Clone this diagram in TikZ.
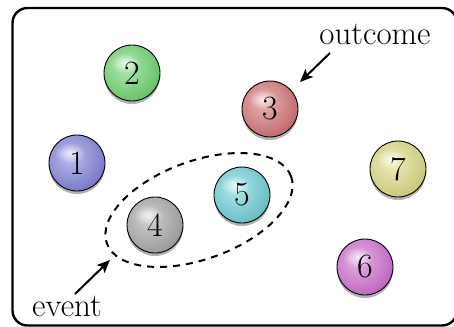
\documentclass[tikz,border=0pt]{standalone}
\usetikzlibrary{shadows,arrows.meta,fadings}
\definecolor{c1}{RGB}{105,105,215}
\definecolor{c2}{RGB}{80,205,80}
\definecolor{c3}{RGB}{205,85,85}
\definecolor{c4}{RGB}{150,150,150}
\definecolor{c5}{RGB}{80,200,210}
\definecolor{c6}{RGB}{200,80,200}
\definecolor{c7}{RGB}{215,215,105}
\tikzfading[name=glowfade,inner color=transparent!0,outer color=transparent!100]
\begin{document}
\begin{tikzpicture}[x=1pt,y=-1pt,
  ballnode/.style={circle,minimum size=56pt,inner sep=0pt,draw=black,line width=0.9pt,
    drop shadow={shadow xshift=0pt,shadow yshift=-3pt,opacity=0.3,fill=black},
    path picture={
      \shade[inner color=#1!45!white,outer color=#1!85!black]
        ([shift={(-6pt,6pt)}]path picture bounding box.center) circle (52pt);
      \fill[white,opacity=0.75,path fading=glowfade,rotate=35]
        ([shift={(-7pt,10pt)}]path picture bounding box.center) ellipse (15pt and 10pt);
    },
    font=\fontsize{34}{40}\selectfont},
  lbl/.style={font=\fontsize{33}{38}\selectfont,inner sep=0pt},
  pointer/.style={line width=2pt,-{Stealth[length=13pt,width=11pt,inset=3pt]}}]
\useasboundingbox (0,0) rectangle (454,326);
\draw[line width=2.4pt,rounded corners=15pt] (12.5,8) rectangle (457,325.5);
\node[ballnode=c1] (b1) at (77,163) {1};
\node[ballnode=c2] (b2) at (132,73) {2};
\node[ballnode=c3] (b3) at (270,109) {3};
\node[ballnode=c4] (b4) at (155,225) {4};
\node[ballnode=c5] (b5) at (242,195) {5};
\node[ballnode=c6] (b6) at (365,267) {6};
\node[ballnode=c7] (b7) at (398,169) {7};
\draw[line width=2pt,dash pattern=on 7pt off 6pt,rotate around={20:(199,210)}] (199,210) ellipse (98pt and 49pt);
\coordinate (evtpt) at (110,260);
\coordinate (outpt) at (300,82);
\node[lbl,anchor=base] (out) at (375,45) {outcome};
\node[lbl,anchor=base] (ev) at (67,316) {event};
\coordinate (outstart) at (330,53);
\coordinate (evstart) at (75,294);
\draw[pointer] (outstart) -- (outpt);
\draw[pointer] (evstart) -- (evtpt);
\end{tikzpicture}
\end{document}
